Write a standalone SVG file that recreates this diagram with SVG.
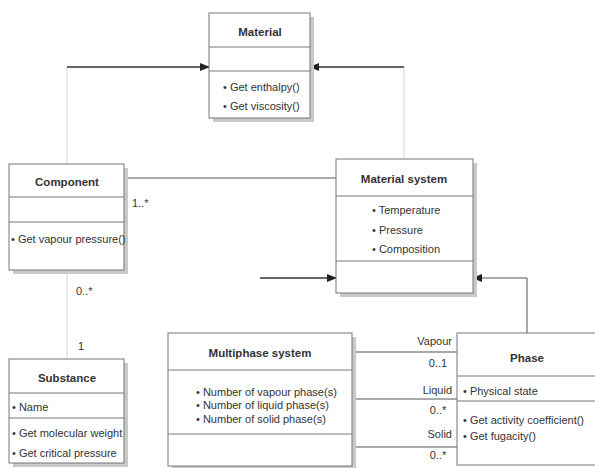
<svg xmlns="http://www.w3.org/2000/svg" width="595" height="468" viewBox="0 0 595 468">
<style>
.box{fill:#fff;stroke:#777;stroke-width:1}
.sh{fill:#c9c9c9}
.sep{stroke:#777;stroke-width:1}
.t{font-family:"Liberation Sans Narrow","Liberation Sans",Arial,sans-serif;font-size:11px;fill:#333}
.h{font-family:"Liberation Sans Narrow","Liberation Sans",Arial,sans-serif;font-size:11.5px;font-weight:bold;fill:#333}
.dk{stroke:#333;stroke-width:1.3;fill:none}
.md{stroke:#555;stroke-width:1;fill:none}
.lt{stroke:#d4d4d4;stroke-width:1;fill:none}
</style>
<defs>
<marker id="ah" markerWidth="10" markerHeight="8" refX="9" refY="4" orient="auto" markerUnits="userSpaceOnUse">
<path d="M0,0 L10,4 L0,8 Z" fill="#222"/>
</marker>
</defs>
<rect width="595" height="468" fill="#fff"/>
<g id="connectors">
<line class="lt" x1="67" y1="67" x2="67" y2="164"/>
<line class="dk" x1="67" y1="67" x2="209" y2="67" marker-end="url(#ah)"/>
<line class="lt" x1="404" y1="67" x2="404" y2="159"/>
<line class="dk" x1="404" y1="67" x2="310" y2="67" marker-end="url(#ah)"/>
<line class="md" x1="124" y1="178" x2="336" y2="178"/>
<line class="lt" x1="67" y1="270" x2="67" y2="359"/>
<line class="dk" x1="260" y1="278" x2="336" y2="278" marker-end="url(#ah)"/>
<polyline class="md" points="527,333 527,278 473,278" marker-end="url(#ah)"/>
<line class="md" x1="352" y1="352" x2="457" y2="352"/>
<line class="md" x1="352" y1="399" x2="457" y2="399"/>
<line class="md" x1="352" y1="447" x2="457" y2="447" stroke="#888"/>
<text class="t" x="132" y="207">1..*</text>
<text class="t" x="76" y="295">0..*</text>
<text class="t" x="78" y="350">1</text>
<text class="t" x="452" y="345" text-anchor="end">Vapour</text>
<text class="t" x="438" y="367" text-anchor="middle">0..1</text>
<text class="t" x="452" y="394" text-anchor="end">Liquid</text>
<text class="t" x="438" y="414" text-anchor="middle">0..*</text>
<text class="t" x="452" y="438" text-anchor="end">Solid</text>
<text class="t" x="438" y="459" text-anchor="middle">0..*</text>
</g>
<g id="material">
<rect class="sh" x="213" y="17" width="101" height="105"/>
<rect class="box" x="209" y="13" width="101" height="105"/>
<line class="sep" x1="209" y1="47" x2="310" y2="47"/>
<line class="sep" x1="209" y1="71" x2="310" y2="71"/>
<text class="h" x="260" y="36" text-anchor="middle">Material</text>
<text class="t" x="223" y="91">• Get enthalpy()</text>
<text class="t" x="223" y="110">• Get viscosity()</text>
</g>
<g id="component">
<rect class="sh" x="13" y="168" width="115" height="106"/>
<rect class="box" x="9" y="164" width="115" height="106"/>
<line class="sep" x1="9" y1="197" x2="124" y2="197"/>
<line class="sep" x1="9" y1="222" x2="124" y2="222"/>
<text class="h" x="67" y="186" text-anchor="middle">Component</text>
<text class="t" x="11" y="243">• Get vapour pressure()</text>
</g>
<g id="material-system">
<rect class="sh" x="340" y="163" width="137" height="134"/>
<rect class="box" x="336" y="159" width="137" height="134"/>
<line class="sep" x1="336" y1="196" x2="473" y2="196"/>
<line class="sep" x1="336" y1="261" x2="473" y2="261"/>
<text class="h" x="404" y="183" text-anchor="middle">Material system</text>
<text class="t" x="372" y="214">• Temperature</text>
<text class="t" x="372" y="234">• Pressure</text>
<text class="t" x="372" y="253">• Composition</text>
</g>
<g id="substance">
<rect class="sh" x="13" y="363" width="115" height="104"/>
<rect class="box" x="9" y="359" width="115" height="104"/>
<line class="sep" x1="9" y1="393" x2="124" y2="393"/>
<line class="sep" x1="9" y1="418" x2="124" y2="418"/>
<text class="h" x="67" y="382" text-anchor="middle">Substance</text>
<text class="t" x="12" y="411">• Name</text>
<text class="t" x="12" y="437">• Get molecular weight</text>
<text class="t" x="12" y="457">• Get critical pressure</text>
</g>
<g id="multiphase-system">
<rect class="sh" x="172" y="337" width="184" height="133"/>
<rect class="box" x="168" y="333" width="184" height="133"/>
<line class="sep" x1="168" y1="370" x2="352" y2="370"/>
<line class="sep" x1="168" y1="434" x2="352" y2="434"/>
<text class="h" x="260" y="357" text-anchor="middle">Multiphase system</text>
<text class="t" x="196" y="396">• Number of vapour phase(s)</text>
<text class="t" x="196" y="409">• Number of liquid  phase(s)</text>
<text class="t" x="196" y="423">• Number of solid phase(s)</text>
</g>
<g id="phase">
<rect class="box" x="457" y="333" width="145" height="132"/>
<line class="sep" x1="457" y1="376" x2="602" y2="376"/>
<line class="sep" x1="457" y1="401" x2="602" y2="401"/>
<text class="h" x="527" y="362" text-anchor="middle">Phase</text>
<text class="t" x="463" y="395">•  Physical state</text>
<text class="t" x="463" y="424">•  Get activity coefficient()</text>
<text class="t" x="463" y="440">•  Get fugacity()</text>
</g>
</svg>
